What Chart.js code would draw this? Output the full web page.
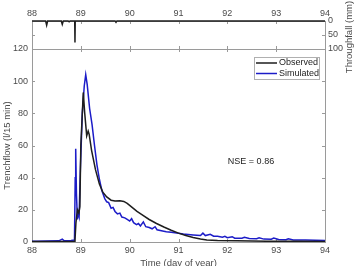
<!DOCTYPE html>
<html>
<head>
<meta charset="utf-8">
<script src="https://cdn.jsdelivr.net/npm/chart.js@4.4.1/dist/chart.umd.min.js"></script>
<style>
html, body { margin: 0; padding: 0; background: #fff; }
#wrap { position: relative; width: 357px; height: 266px; overflow: hidden; }
canvas { position: absolute; left: 0; top: 0; }
</style>
</head>
<body>
<div id="wrap">
  <canvas id="main" width="357" height="266"></canvas>
  <canvas id="rain" width="357" height="80"></canvas>
</div>
<script>
// observed trench flow (l/15 min)
const obsDays = [88.00, 88.50, 88.87, 88.88, 88.90, 88.93, 88.96, 88.98, 89.00, 89.05,
  89.08, 89.12, 89.15, 89.17, 89.22, 89.30, 89.38, 89.45, 89.53, 89.62,
  89.70, 89.80, 89.88, 89.95, 90.05, 90.15, 90.25, 90.40, 90.55, 90.70,
  90.85, 91.00, 91.15, 91.30, 91.45, 91.58, 91.80, 92.20, 92.80, 93.50, 94.00];
const obsFlow = [0.3, 0.3, 0.3, 1, 12, 20, 18, 22, 60, 93,
  80, 66, 69, 67, 57, 45, 36, 31, 28, 26,
  25.5, 25.7, 25.2, 24, 21.5, 19, 17, 14, 11.5, 9.3,
  7.3, 5.5, 4, 2.8, 1.8, 1.2, 0.9, 0.7, 0.5, 0.4, 0.3];

// simulated trench flow (l/15 min)
const simDays = [88.00, 88.10, 88.30, 88.55, 88.62, 88.66, 88.80, 88.87, 88.885, 88.895,
  88.91, 88.93, 88.95, 88.965, 88.99, 89.03, 89.07, 89.10, 89.13, 89.18,
  89.23, 89.28, 89.33, 89.38, 89.43, 89.49, 89.53, 89.57, 89.62, 89.66,
  89.70, 89.75, 89.80, 89.84, 89.90, 89.95, 90.00, 90.04, 90.08, 90.14,
  90.18, 90.22, 90.28, 90.33, 90.40, 90.46, 90.52, 90.56, 90.65, 90.75,
  90.85, 91.00, 91.10, 91.20, 91.30, 91.45, 91.50, 91.55, 91.65, 91.72,
  91.80, 91.90, 91.95, 92.00, 92.10, 92.15, 92.30, 92.35, 92.45, 92.60,
  92.65, 92.75, 92.90, 92.95, 93.05, 93.20, 93.25, 93.35, 93.60, 93.80, 94.00];
const simFlow = [0.5, 0.4, 0.6, 0.7, 1.8, 0.8, 1.0, 1.2, 40, 58,
  30, 14, 18, 16, 45, 80, 97, 104, 98, 83,
  73, 60, 48, 39, 32, 27, 25, 24.5, 21, 21.5,
  19, 17.5, 18, 15.5, 15, 14, 13, 14.5, 12, 10.8,
  11.5, 10, 12.5, 9.5, 9, 8.2, 9.5, 7.6, 7, 6.4,
  6, 5.5, 5, 4.7, 4.4, 4, 5.5, 4, 4.8, 3.6,
  3.5, 3, 3.5, 2.7, 3.3, 2.4, 2.3, 2.9, 2.2, 2.0,
  2.6, 1.8, 1.7, 2.4, 1.5, 1.4, 2.0, 1.3, 1.2, 1.1, 1.0];

// throughfall (mm)
const rainDays = [88.00, 88.28, 88.30, 88.32, 88.60, 88.62, 88.64, 88.74, 88.76, 88.78,
  88.875, 88.88, 88.885, 89.70, 89.72, 89.74, 94.00];
const rainMm = [0, 0, 15, 0, 0, 12, 0, 0, 3, 0,
  0, 77, 0, 0, 3, 0, 0];

const FONT = 'Liberation Sans, Arial, Helvetica, sans-serif';
const AXIS = '#9a9a9a';
const TEXT = '#4a4a4a';
const TICK = 3;

Chart.defaults.font.family = FONT;
Chart.defaults.font.size = 9;
Chart.defaults.color = TEXT;

function pts(xs, ys) {
  return xs.map((x, i) => ({ x: x, y: ys[i] }));
}

// box round the plot area with MATLAB style inward ticks
const boxTicks = {
  id: 'boxTicks',
  beforeDatasetsDraw(chart) {
    const { ctx, chartArea: a, scales } = chart;
    const xs = scales.x, ys = scales.y;
    ctx.save();
    ctx.strokeStyle = AXIS;
    ctx.lineWidth = 1;
    ctx.strokeRect(a.left + 0.5, a.top + 0.5, a.width, a.height);
    ctx.beginPath();
    xs.ticks.forEach(t => {
      const px = Math.round(xs.getPixelForValue(t.value)) + 0.5;
      ctx.moveTo(px, a.bottom); ctx.lineTo(px, a.bottom - TICK);
      ctx.moveTo(px, a.top); ctx.lineTo(px, a.top + TICK);
    });
    ys.ticks.forEach(t => {
      const py = Math.round(ys.getPixelForValue(t.value)) + 0.5;
      ctx.moveTo(a.left, py); ctx.lineTo(a.left + TICK, py);
      ctx.moveTo(a.right, py); ctx.lineTo(a.right - TICK, py);
    });
    ctx.stroke();
    ctx.restore();
  }
};

const legendBox = {
  id: 'legendBox',
  afterDatasetsDraw(chart) {
    const ctx = chart.ctx;
    ctx.save();
    ctx.fillStyle = '#fff';
    ctx.strokeStyle = '#b0b0b0';
    ctx.lineWidth = 1;
    ctx.fillRect(254, 57, 65, 22);
    ctx.strokeRect(254.5, 57.5, 65, 22);
    ctx.font = '9px ' + FONT;
    ctx.textBaseline = 'middle';
    ctx.fillStyle = '#222';
    chart.data.datasets.forEach((ds, i) => {
      const y = 63 + i * 10.5;
      ctx.strokeStyle = ds.borderColor;
      ctx.lineWidth = ds.borderWidth;
      ctx.beginPath();
      ctx.moveTo(256, y); ctx.lineTo(277, y);
      ctx.stroke();
      ctx.fillText(ds.label, 279, y);
    });
    ctx.textAlign = 'center';
    ctx.fillText('NSE = 0.86', 251, 162);
    ctx.restore();
  }
};

const rightTitle = {
  id: 'rightTitle',
  afterDraw(chart) {
    const ctx = chart.ctx;
    ctx.save();
    ctx.translate(349, 37);
    ctx.rotate(-Math.PI / 2);
    ctx.font = '9.5px ' + FONT;
    ctx.fillStyle = TEXT;
    ctx.textAlign = 'center';
    ctx.textBaseline = 'middle';
    ctx.fillText('Throughfall (mm)', 0, 0);
    ctx.restore();
  }
};

new Chart(document.getElementById('main'), {
  type: 'line',
  data: {
    datasets: [
      { label: 'Observed', data: pts(obsDays, obsFlow), borderColor: '#1e1e1e', borderWidth: 1.5 },
      { label: 'Simulated', data: pts(simDays, simFlow), borderColor: '#1c1cc8', borderWidth: 1.5 }
    ]
  },
  options: {
    responsive: false,
    animation: false,
    layout: { padding: { top: 49, right: 32, left: 0, bottom: 0 } },
    elements: { point: { radius: 0 }, line: { tension: 0 } },
    plugins: { legend: { display: false }, tooltip: { enabled: false } },
    scales: {
      x: {
        type: 'linear', min: 88, max: 94,
        ticks: { stepSize: 1, padding: 3, maxRotation: 0 },
        grid: { display: false, drawTicks: false, tickLength: 0 },
        border: { display: false },
        title: { display: true, text: 'Time (day of year)', font: { size: 9.5 }, padding: { top: 0, bottom: -3 } },
        afterFit: s => { s.height = 24; }
      },
      y: {
        min: 0, max: 120,
        ticks: { stepSize: 20, padding: 4 },
        grid: { display: false, drawTicks: false, tickLength: 0 },
        border: { display: false },
        title: { display: true, text: 'Trenchflow (l/15 min)', font: { size: 9.5 }, padding: { top: 2, bottom: 0 } },
        afterFit: s => { s.width = 32; }
      }
    }
  },
  plugins: [boxTicks, legendBox]
});

new Chart(document.getElementById('rain'), {
  type: 'line',
  data: {
    datasets: [
      { label: 'Throughfall', data: pts(rainDays, rainMm), borderColor: '#1e1e1e', borderWidth: 1.5, clip: 3 }
    ]
  },
  options: {
    responsive: false,
    animation: false,
    layout: { padding: { top: 0, right: 0, left: 32, bottom: 31 } },
    elements: { point: { radius: 0 }, line: { tension: 0 } },
    plugins: { legend: { display: false }, tooltip: { enabled: false } },
    scales: {
      x: {
        type: 'linear', position: 'top', min: 88, max: 94,
        ticks: { stepSize: 1, padding: 2, maxRotation: 0 },
        grid: { display: false, drawTicks: false, tickLength: 0 },
        border: { display: false },
        afterFit: s => { s.height = 21; }
      },
      y: {
        position: 'right', reverse: true, min: 0, max: 100,
        ticks: { stepSize: 50, padding: 3 },
        grid: { display: false, drawTicks: false, tickLength: 0 },
        border: { display: false },
        afterFit: s => { s.width = 32; }
      }
    }
  },
  plugins: [boxTicks, rightTitle]
});
</script>
</body>
</html>
